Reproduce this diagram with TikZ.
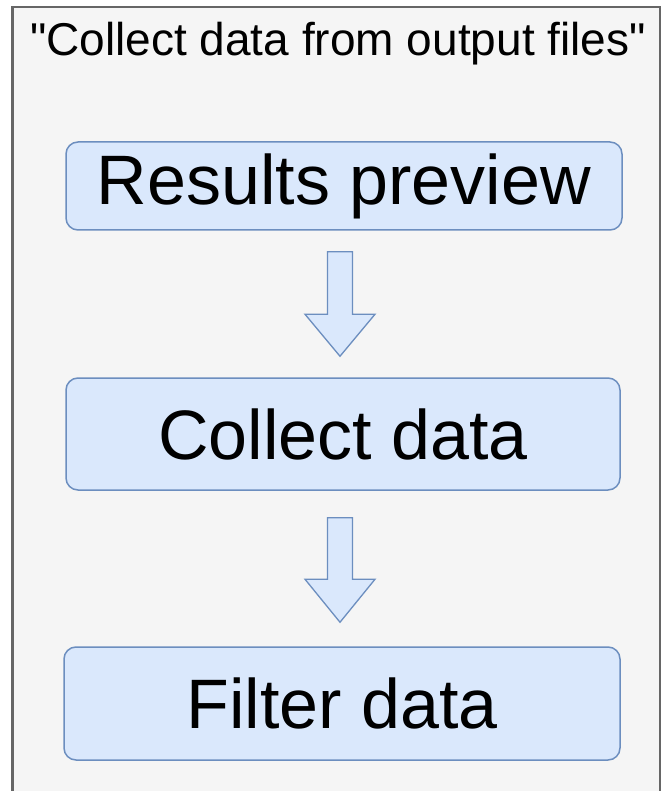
\documentclass[tikz,border=0pt]{standalone}
\usepackage{fontspec}
\setmainfont{Liberation Sans}[Ligatures=TeXOff]
\usetikzlibrary{calc}
\definecolor{bgfill}{HTML}{F5F5F5}
\definecolor{bgline}{HTML}{666666}
\definecolor{boxfill}{HTML}{DAE8FC}
\definecolor{boxline}{HTML}{6C8EBF}
\tikzset{
  stepbox/.style={draw=boxline, fill=boxfill, line width=1.5pt, rounded corners=12pt,
    inner sep=0pt, font=\fontsize{70}{80}\selectfont, text=black},
  blockarrow/.style={draw=boxline, fill=boxfill, line width=1.3pt, line join=miter},
  titletext/.style={font=\fontsize{46}{52}\selectfont, text=black, inner sep=0pt, anchor=base}
}
\begin{document}
\begin{tikzpicture}[x=1pt,y=-1pt]
\useasboundingbox (0,0) rectangle (665,791);
\begin{scope}
\clip (0,0) rectangle (665,791);
\draw[bgline, fill=bgfill, line width=2.7pt] (12.5,7) rectangle (660,810);
\end{scope}
\node[titletext] (title) at (338,56) {"Collect data from output files"};
\node[stepbox, minimum width=556pt, minimum height=88pt] (b1) at (344,186) {Results preview};
\node[stepbox, minimum width=554pt, minimum height=112pt] (b2) at (343,434) {Collect data};
\node[stepbox, minimum width=556pt, minimum height=113pt] (b3) at (342,703.5) {Filter data};
% arrow 1
\coordinate (a1s) at ($(b1.south)+(-4,21)$);
\coordinate (a1t) at ($(b2.north)+(-3,-21)$);
\draw[blockarrow] ($(a1s)+(-12.5,0)$) -- ($(a1s)+(12.5,0)$) -- ($(a1t)+(12.5,-42)$) -- ($(a1t)+(35,-42)$) -- (a1t) -- ($(a1t)+(-35,-42)$) -- ($(a1t)+(-12.5,-42)$) -- cycle;
% arrow 2
\coordinate (a2s) at ($(b2.south)+(-3,27)$);
\coordinate (a2t) at ($(b3.north)+(-2,-24)$);
\draw[blockarrow] ($(a2s)+(-12.5,0)$) -- ($(a2s)+(12.5,0)$) -- ($(a2t)+(12.5,-43)$) -- ($(a2t)+(35,-43)$) -- (a2t) -- ($(a2t)+(-35,-43)$) -- ($(a2t)+(-12.5,-43)$) -- cycle;
\end{tikzpicture}
\end{document}
